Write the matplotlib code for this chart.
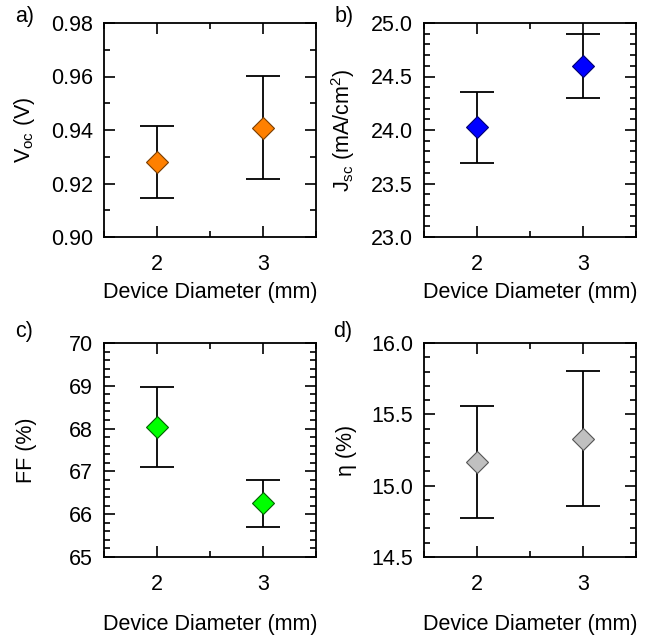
import numpy as np
import matplotlib
matplotlib.use("Agg")
import matplotlib.pyplot as plt
from matplotlib.ticker import MultipleLocator, FormatStrFormatter

plt.rcParams["font.family"] = ["Liberation Sans", "DejaVu Sans"]
plt.rcParams["mathtext.fontset"] = "custom"
plt.rcParams["mathtext.rm"] = "Liberation Sans"
plt.rcParams["mathtext.it"] = "Liberation Sans"
plt.rcParams["mathtext.default"] = "regular"

# device diameters (mm)
diameters = [2, 3]

# open-circuit voltage (V)
voc = [0.928, 0.9408]
voc_err = [0.0134, 0.0193]

# short-circuit current density (mA/cm2)
jsc = [24.025, 24.595]
jsc_err = [0.33, 0.30]

# fill factor (%)
ff = [68.04, 66.25]
ff_err = [0.94, 0.55]

# efficiency (%)
eta = [15.165, 15.33]
eta_err = [0.395, 0.475]

panels = [
    # values, errors, colour, edge, ylabel, ylim, major, minor, fmt, tag
    (voc, voc_err, "#FF8000", "#7a3d00", r"V$_{oc}$ (V)", (0.90, 0.98), 0.02, 0.01, "%.2f", "a)"),
    (jsc, jsc_err, "#0000FF", "#000070", r"J$_{sc}$ (mA/cm$^{2}$)", (23.0, 25.0), 0.5, 0.1, "%.1f", "b)"),
    (ff, ff_err, "#00FF00", "#006000", "FF (%)", (65, 70), 1, 0.2, "%d", "c)"),
    (eta, eta_err, "#C0C0C0", "#555555", "η (%)", (14.5, 16.0), 0.5, 0.1, "%.1f", "d)"),
]

FS = 15.5
W, H = 647, 642
fig = plt.figure(figsize=(W / 100, H / 100), dpi=100)
fig.patch.set_facecolor("white")

# axes boxes in pixels: left, top
boxes = [(104, 23), (424, 23), (104, 343), (424, 343)]
aw, ah = 212, 214
tag_pos = [(15, 6), (335, 6), (15, 321), (333, 321)]
xlabel_y = [-0.21, -0.21, -0.268, -0.268]

for i, (vals, errs, col, edge, ylab, ylim, maj, mnr, fmt, tag) in enumerate(panels):
    l, t = boxes[i]
    ax = fig.add_axes([l / W, 1 - (t + ah) / H, aw / W, ah / H])
    ax.errorbar(diameters, vals, yerr=errs, fmt="none", ecolor="black",
                elinewidth=1.3, capsize=12.5, capthick=1.3, zorder=2)
    ax.plot(diameters, vals, linestyle="none", marker="D", markersize=11.3,
            markerfacecolor=col, markeredgecolor=edge, markeredgewidth=0.8, zorder=3)

    ax.set_xlim(1.5, 3.5)
    ax.set_ylim(*ylim)
    ax.xaxis.set_major_locator(MultipleLocator(1))
    ax.xaxis.set_minor_locator(MultipleLocator(0.5))
    ax.yaxis.set_major_locator(MultipleLocator(maj))
    ax.yaxis.set_minor_locator(MultipleLocator(mnr))
    ax.yaxis.set_major_formatter(FormatStrFormatter(fmt))
    ax.xaxis.set_major_formatter(FormatStrFormatter("%d"))

    ax.tick_params(which="both", direction="in", top=True, right=True,
                   width=1.2, labelsize=FS)
    ax.tick_params(which="major", length=8)
    ax.tick_params(which="minor", length=4.5)
    ax.tick_params(axis="x", pad=12)
    ax.tick_params(axis="y", pad=8)
    for s in ax.spines.values():
        s.set_linewidth(1.3)

    ax.set_xlabel("Device Diameter (mm)", fontsize=FS)
    ax.xaxis.set_label_coords(0.5, xlabel_y[i])
    ax.set_ylabel(ylab, fontsize=FS)
    ax.yaxis.set_label_coords(-0.315, 0.5)

    tx, ty = tag_pos[i]
    fig.text(tx / W, 1 - ty / H, tag, fontsize=FS, ha="left", va="top")

fig.savefig("out.png", dpi=100)
